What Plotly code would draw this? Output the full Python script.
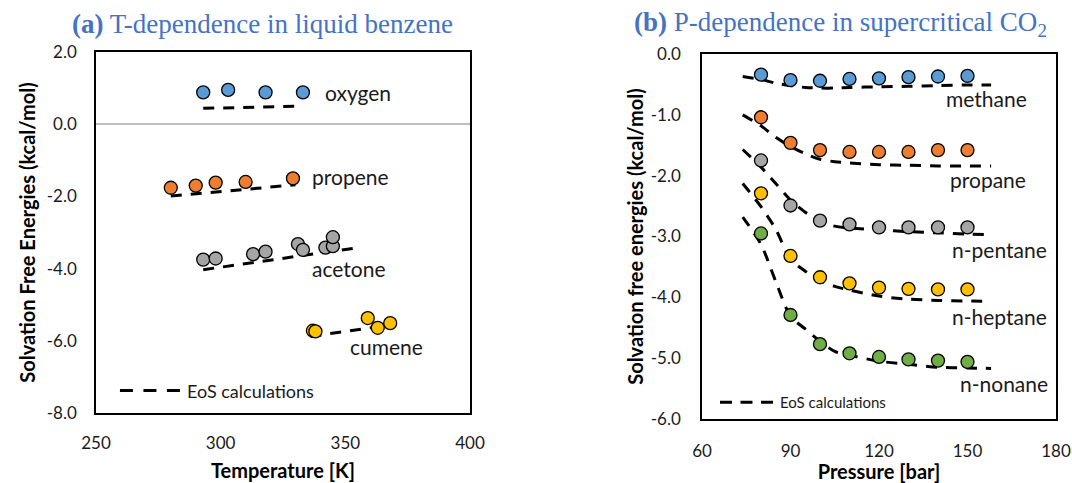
import plotly.graph_objects as go

# ---------------- Panel (a): T-dependence in liquid benzene ----------------
oxygen_T = [293, 303, 318, 333]
oxygen_G = [0.88, 0.95, 0.88, 0.88]
oxygen_eos_T = [293, 333]
oxygen_eos_G = [0.44, 0.50]

propene_T = [280, 290, 298, 310, 329]
propene_G = [-1.76, -1.70, -1.62, -1.60, -1.50]
propene_eos_T = [280, 330]
propene_eos_G = [-1.99, -1.68]

acetone_T = [293, 298, 313, 318, 331, 333, 342, 345, 345]
acetone_G = [-3.75, -3.72, -3.60, -3.53, -3.32, -3.48, -3.42, -3.38, -3.13]
acetone_eos_T = [293, 353]
acetone_eos_G = [-4.03, -3.44]

cumene_T = [337, 338, 359, 363, 368]
cumene_G = [-5.72, -5.74, -5.37, -5.64, -5.51]
cumene_eos_T = [336, 361]
cumene_eos_G = [-5.88, -5.63]

a_xticks = [250, 300, 350, 400]
a_xticktext = ["250", "300", "350", "400"]
a_yticks = [2, 0, -2, -4, -6, -8]
a_yticktext = ["2.0", "0.0", "-2.0", "-4.0", "-6.0", "-8.0"]

# ---------------- Panel (b): P-dependence in supercritical CO2 ----------------
P = [80, 90, 100, 110, 120, 130, 140, 150]
methane = [-0.34, -0.43, -0.44, -0.41, -0.40, -0.38, -0.37, -0.36]
propane = [-1.04, -1.46, -1.58, -1.61, -1.61, -1.61, -1.58, -1.58]
pentane = [-1.75, -2.49, -2.74, -2.80, -2.85, -2.85, -2.85, -2.85]
heptane = [-2.29, -3.32, -3.67, -3.77, -3.84, -3.86, -3.87, -3.87]
nonane = [-2.95, -4.29, -4.77, -4.92, -4.98, -5.02, -5.04, -5.06]

P_eos = [73.8, 80, 85, 90, 95, 100, 105, 110, 120, 130, 140, 150, 158]
methane_eos = [-0.37, -0.42, -0.48, -0.52, -0.55, -0.56, -0.56, -0.55, -0.54, -0.53, -0.52, -0.51, -0.51]
propane_eos = [-1.00, -1.18, -1.37, -1.52, -1.64, -1.73, -1.77, -1.79, -1.82, -1.83, -1.84, -1.84, -1.84]
pentane_eos = [-1.57, -1.86, -2.13, -2.40, -2.60, -2.75, -2.83, -2.86, -2.89, -2.92, -2.94, -2.96, -2.97]
heptane_eos = [-2.13, -2.51, -2.88, -3.37, -3.57, -3.72, -3.82, -3.88, -3.98, -4.03, -4.05, -4.06, -4.07]
nonane_eos = [-2.68, -3.13, -3.74, -4.31, -4.52, -4.72, -4.89, -4.95, -5.05, -5.10, -5.15, -5.16, -5.17]

b_xticks = [60, 90, 120, 150, 180]
b_xticktext = ["60", "90", "120", "150", "180"]
b_yticks = [0, -1, -2, -3, -4, -5, -6]
b_yticktext = ["0.0", "-1.0", "-2.0", "-3.0", "-4.0", "-5.0", "-6.0"]

BLUE, ORANGE, GRAY, YELLOW, GREEN = "#5B9BD5", "#ED7D31", "#A5A5A5", "#FFC000", "#70AD47"
SANS = "Lato, Calibri, 'Open Sans', sans-serif"
SERIF = "'Liberation Serif', 'Times New Roman', serif"
TXT = "#1a1a1a"
DASH = "11px,9px"

W, H = 1072, 483


def fx(px):
    return px / W


def fy(py):
    return 1 - py / H


fig = go.Figure()


def eos(x, y, xa, ya, spline=False):
    fig.add_trace(go.Scatter(
        x=x, y=y, xaxis=xa, yaxis=ya, mode="lines",
        line=dict(color="black", width=3, dash=DASH,
                  shape="spline" if spline else "linear", smoothing=0.8),
        showlegend=False, hoverinfo="skip"))


def pts(x, y, color, xa, ya, name):
    fig.add_trace(go.Scatter(
        x=x, y=y, xaxis=xa, yaxis=ya, mode="markers", name=name,
        marker=dict(size=13, color=color, line=dict(color="black", width=1.3)),
        showlegend=False))


# panel a
for (tx, gy, ex, ey, c, n) in [
    (oxygen_T, oxygen_G, oxygen_eos_T, oxygen_eos_G, BLUE, "oxygen"),
    (propene_T, propene_G, propene_eos_T, propene_eos_G, ORANGE, "propene"),
    (acetone_T, acetone_G, acetone_eos_T, acetone_eos_G, GRAY, "acetone"),
    (cumene_T, cumene_G, cumene_eos_T, cumene_eos_G, YELLOW, "cumene"),
]:
    eos(ex, ey, "x", "y")
    pts(tx, gy, c, "x", "y", n)

# panel b
for (gy, ey, c, n) in [
    (methane, methane_eos, BLUE, "methane"),
    (propane, propane_eos, ORANGE, "propane"),
    (pentane, pentane_eos, GRAY, "n-pentane"),
    (heptane, heptane_eos, YELLOW, "n-heptane"),
    (nonane, nonane_eos, GREEN, "n-nonane"),
]:
    eos(P_eos, ey, "x2", "y2", spline=True)
    pts(P, gy, c, "x2", "y2", n)

axis_common = dict(showgrid=False, showline=True, mirror=True, linecolor="black",
                   linewidth=1.5, ticks="", tickfont=dict(family=SANS, size=17, color=TXT),
                   automargin=False)
title_font = dict(family=SANS, size=20, color="black")

fig.update_layout(
    width=W, height=H,
    margin=dict(l=0, r=0, t=0, b=0),
    paper_bgcolor="white", plot_bgcolor="white",
    showlegend=False,
    xaxis=dict(domain=[fx(96), fx(470)], range=[250, 400], tickvals=a_xticks,
               ticktext=a_xticktext, zeroline=False, anchor="y", ticklabelstandoff=14,
               title=dict(text="<b>Temperature [K]</b>", font=title_font, standoff=12),
               **axis_common),
    yaxis=dict(domain=[fy(413), fy(52)], range=[-8, 2], tickvals=a_yticks,
               ticktext=a_yticktext, zeroline=True, zerolinecolor="#BFBFBF", zerolinewidth=1.5,
               anchor="x", ticklabelstandoff=14,
               title=dict(text="<b>Solvation Free Energies (kcal/mol)</b>", font=title_font, standoff=6),
               **axis_common),
    xaxis2=dict(domain=[fx(702), fx(1056)], range=[60, 180], tickvals=b_xticks,
                ticktext=b_xticktext, zeroline=False, anchor="y2", ticklabelstandoff=16,
                title=dict(text="<b>Pressure [bar]</b>", font=title_font, standoff=10),
                **axis_common),
    yaxis2=dict(domain=[fy(419), fy(54)], range=[-6, 0], tickvals=b_yticks,
                ticktext=b_yticktext, zeroline=False, anchor="x2", ticklabelstandoff=16,
                title=dict(text="<b>Solvation free energies (kcal/mol)</b>", font=title_font, standoff=2),
                **axis_common),
)

ann = []
lab_font = dict(family=SANS, size=21, color=TXT)
# series labels panel a
for txt, xv, yv in [("oxygen", 341, 0.88), ("propene", 336, -1.46),
                    ("acetone", 336, -4.0), ("cumene", 351, -6.16)]:
    ann.append(dict(text=txt, x=xv, y=yv, xref="x", yref="y", xanchor="left", yanchor="middle",
                    showarrow=False, font=lab_font))
# series labels panel b
for txt, xv, yv in [("methane", 142.0, -0.73), ("propane", 143.4, -2.07),
                    ("n-pentane", 144.1, -3.22), ("n-heptane", 144.1, -4.32),
                    ("n-nonane", 146.8, -5.41)]:
    ann.append(dict(text=txt, x=xv, y=yv, xref="x2", yref="y2", xanchor="left", yanchor="middle",
                    showarrow=False, font=lab_font))

# panel titles
ann.append(dict(text="<b>(a)</b> T-dependence in liquid benzene", x=fx(262), y=fy(24),
                xref="paper", yref="paper", xanchor="center", yanchor="middle", showarrow=False,
                font=dict(family=SERIF, size=27, color="#4472C4")))
ann.append(dict(text="<b>(b)</b> P-dependence in supercritical CO<sub>2</sub>", x=fx(840),
                y=fy(24), xref="paper", yref="paper", xanchor="center", yanchor="middle",
                showarrow=False, font=dict(family=SERIF, size=27, color="#4472C4")))

# legend entries (EoS calculations)
ann.append(dict(text="EoS calculations", x=0.238, y=0.062, xref="x domain", yref="y domain",
                xanchor="left", yanchor="middle", showarrow=False,
                font=dict(family=SANS, size=18, color=TXT)))
ann.append(dict(text="EoS calculations", x=0.215, y=0.046, xref="x2 domain", yref="y2 domain",
                xanchor="left", yanchor="middle", showarrow=False,
                font=dict(family=SANS, size=15, color=TXT)))
fig.update_layout(annotations=ann)

fig.add_shape(type="line", xref="x domain", yref="y domain", x0=0.064, x1=0.2246, y0=0.062, y1=0.062,
              line=dict(color="black", width=3, dash="13px,10.5px"))
fig.add_shape(type="line", xref="x2 domain", yref="y2 domain", x0=0.0508, x1=0.2006, y0=0.046, y1=0.046,
              line=dict(color="black", width=3, dash="12px,8.5px"))

fig.write_html("out.html",
               config={"displayModeBar": False},
               post_script="document.body.style.margin='0';document.body.style.overflow='hidden';")
